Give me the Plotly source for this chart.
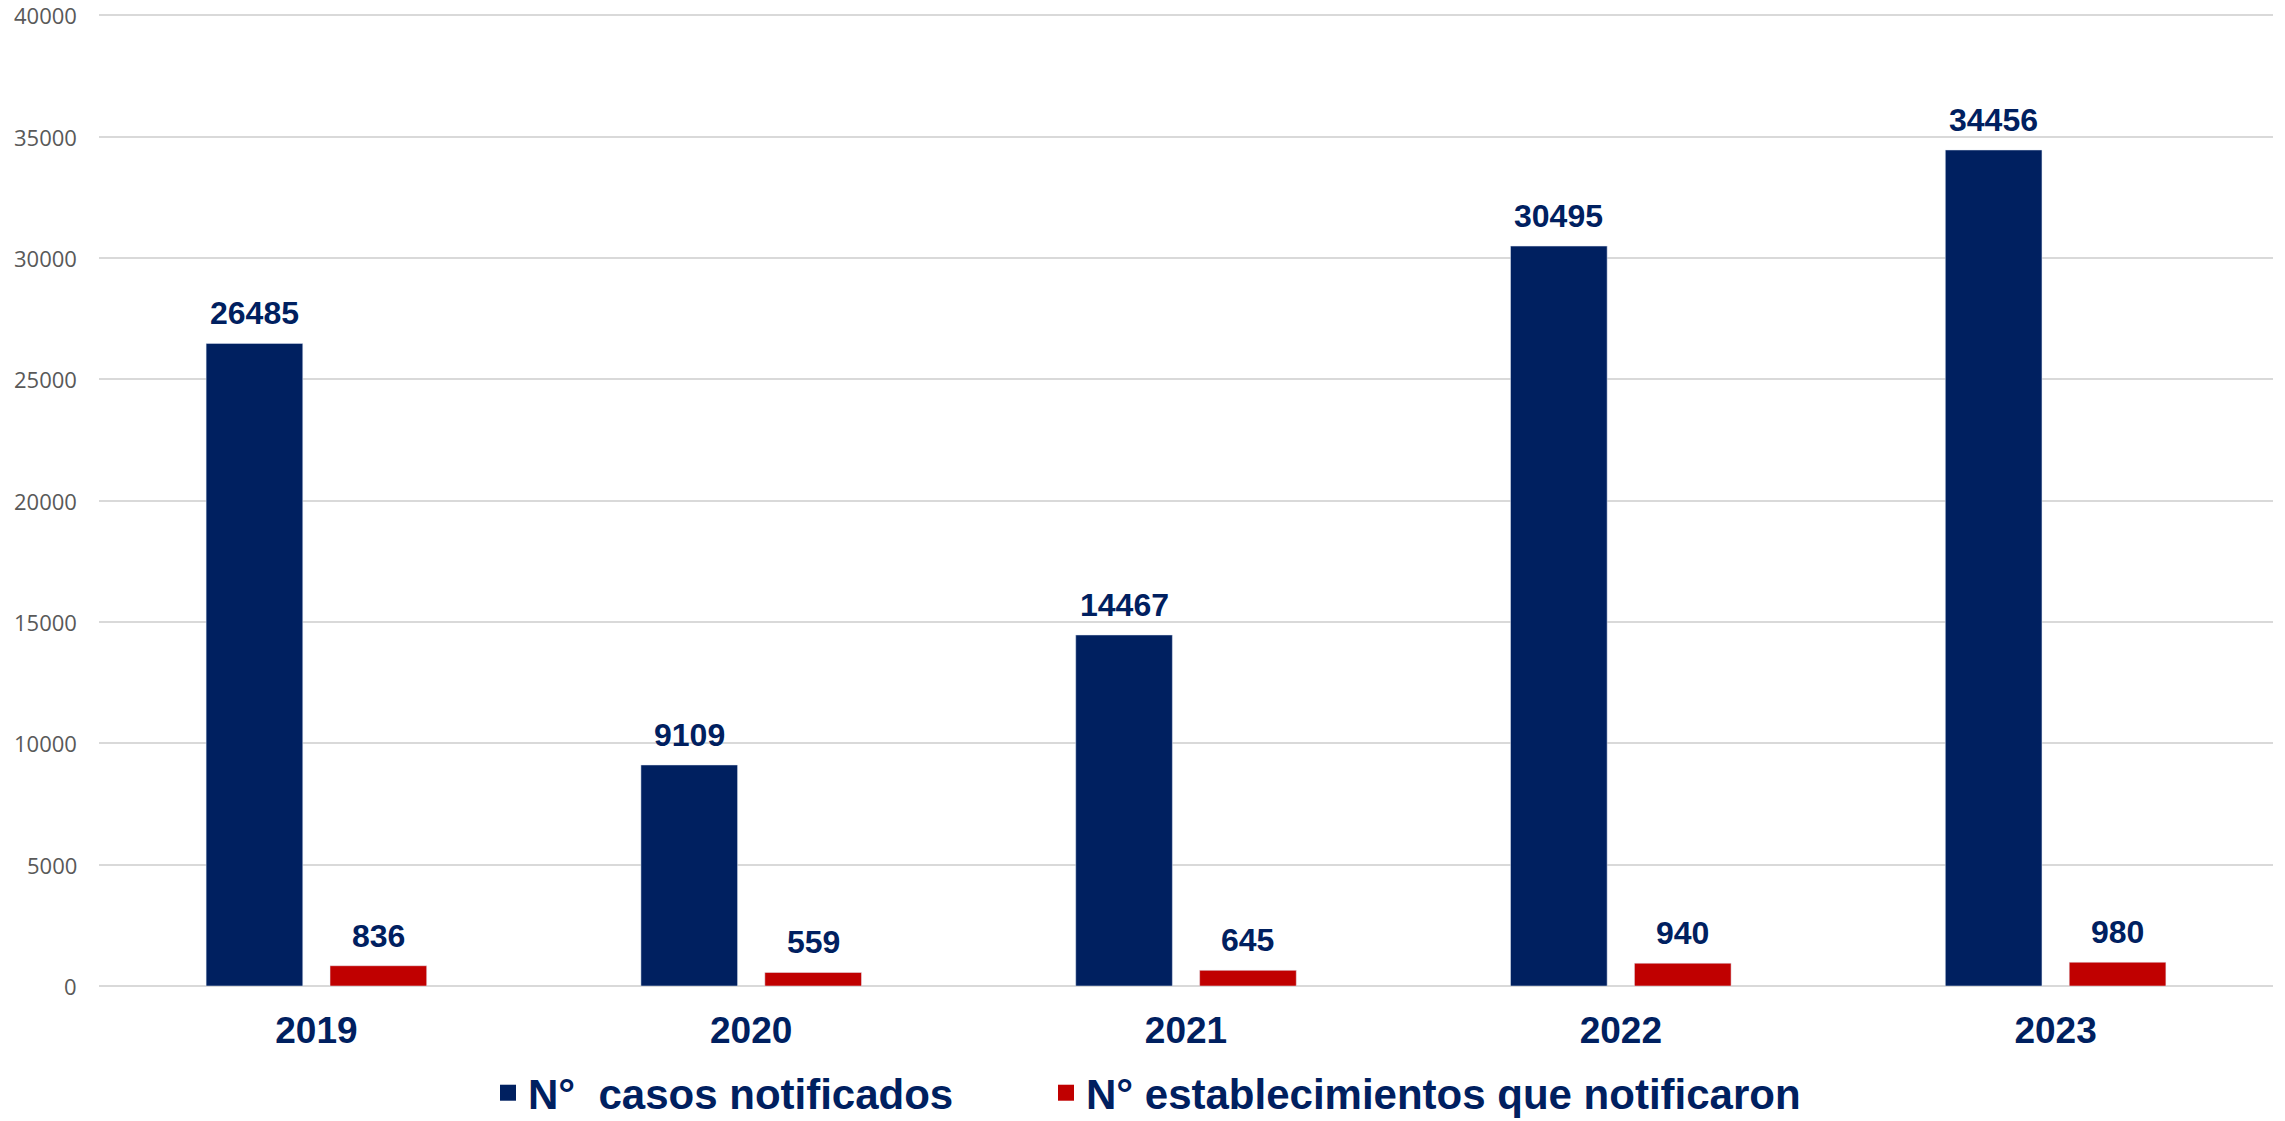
import plotly.graph_objects as go

years = ["2019", "2020", "2021", "2022", "2023"]
casos = [26485, 9109, 14467, 30495, 34456]
establecimientos = [836, 559, 645, 940, 980]
name_casos = "N°  casos notificados"
name_estab = "N° establecimientos que notificaron"
y_ticks = [0, 5000, 10000, 15000, 20000, 25000, 30000, 35000, 40000]

NAVY = "#002060"
RED = "#C00000"
W, H = 2285, 1121
ML, MR, MT, MB = 99, 12, 14, 135
BARGAP = 0.43
PW = W - ML - MR

fig = go.Figure()

fig.add_trace(go.Bar(x=years, y=casos, name=name_casos, marker_color=NAVY, showlegend=False))
fig.add_trace(go.Bar(x=years, y=establecimientos, name=name_estab, marker_color=RED, showlegend=False))

# legend entries with bigger square swatches, one legend each so they can be placed
legend_font = dict(family="Liberation Sans, Arial", size=42, color=NAVY, weight="bold")
fig.add_trace(go.Scatter(x=[years[0]], y=[None], mode="markers", name=name_casos, legend="legend",
                         marker=dict(symbol="square", size=22, color=NAVY)))
fig.add_trace(go.Scatter(x=[years[0]], y=[None], mode="markers", name=name_estab, legend="legend2",
                         marker=dict(symbol="square", size=22, color=RED)))

# value labels above each bar (x given as category index)
cat_w = PW / len(years)
off = cat_w * (1 - BARGAP) / 4
for vals, sh in [(casos, -off), (establecimientos, off)]:
    for i, v in enumerate(vals):
        fig.add_annotation(x=i, y=v, text=str(v), showarrow=False,
                           xref="x", yref="y", xshift=sh, yshift=10, yanchor="bottom",
                           font=dict(family="Liberation Sans, Arial", size=32, color=NAVY, weight="bold"))

# y tick labels as annotations so the top one (40000) isn't dropped at the edge
for t in y_ticks:
    fig.add_annotation(x=0, y=t, xref="paper", yref="y", text=str(t), showarrow=False,
                       xanchor="right", yanchor="middle", xshift=-20,
                       font=dict(family="Open Sans", size=22, color="#595959"))

fig.update_layout(
    width=W, height=H,
    margin=dict(l=ML, r=MR, t=MT, b=MB, autoexpand=False),
    barmode="group", bargap=BARGAP, bargroupgap=0.22,
    plot_bgcolor="white", paper_bgcolor="white",
    legend=dict(orientation="h", x=(488 - ML) / PW, xanchor="left", y=-0.11, yanchor="middle",
                font=legend_font, itemsizing="trace"),
    legend2=dict(orientation="h", x=(1046 - ML) / PW, xanchor="left", y=-0.11, yanchor="middle",
                 font=legend_font, itemsizing="trace"),
    xaxis=dict(type="category", range=[-0.5, len(years) - 0.5],
               tickfont=dict(family="Liberation Sans, Arial", size=37, color=NAVY, weight="bold"),
               showgrid=False, ticks="", ticklabelstandoff=19),
    yaxis=dict(range=[0, 40060], tickvals=y_ticks, showticklabels=False,
               showgrid=True, gridcolor="#d9d9d9", gridwidth=2,
               zeroline=True, zerolinecolor="#d9d9d9", zerolinewidth=2, ticks=""),
)

fig.write_html("out.html", config={"displayModeBar": False},
               post_script="document.body.style.margin='0';")
